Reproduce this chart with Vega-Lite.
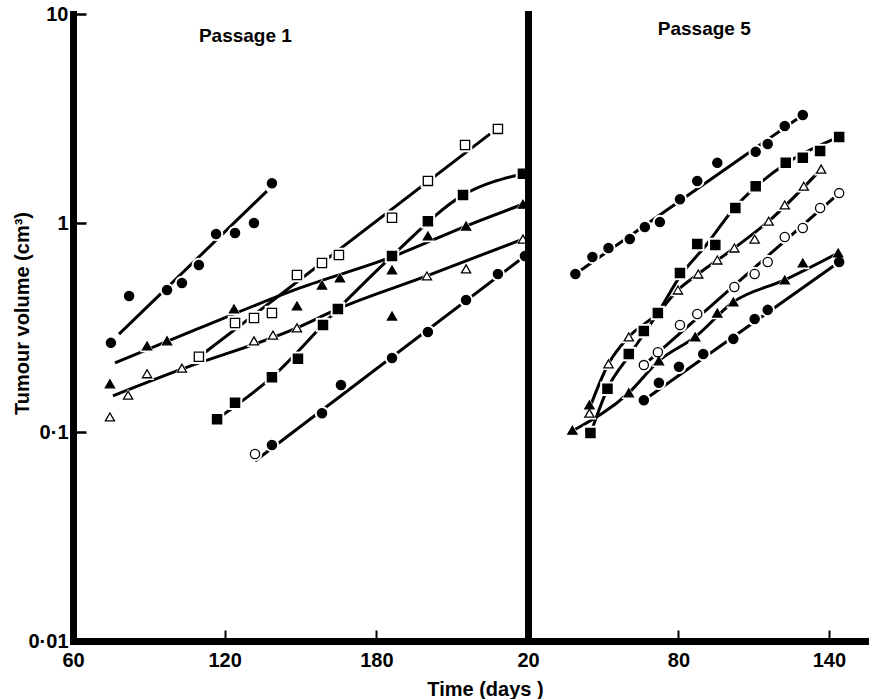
{
  "$schema": "https://vega.github.io/schema/vega-lite/v6.json",
  "padding": {"left": 12, "top": 4, "right": 0, "bottom": 0},
  "background": "white",
  "spacing": 0,
  "bounds": "flush",
  "config": {
    "view": {"stroke": null},
    "font": "Liberation Sans",
    "axis": {
      "grid": false, "domainColor": "black", "tickColor": "black",
      "labelColor": "black", "titleColor": "black",
      "labelFont": "Liberation Sans", "titleFont": "Liberation Sans",
      "labelFontWeight": "bold", "titleFontWeight": "bold",
      "labelFontSize": 20, "titleFontSize": 20
    }
  },
  "resolve": {"scale": {"x": "independent", "y": "independent"}},
  "datasets": {
    "p1_obs": [
      {"series": "A", "shape": "circle", "fill": "filled", "day": 75.0, "vol": 0.267},
      {"series": "A", "shape": "circle", "fill": "filled", "day": 82.2, "vol": 0.447},
      {"series": "A", "shape": "circle", "fill": "filled", "day": 97.2, "vol": 0.478},
      {"series": "A", "shape": "circle", "fill": "filled", "day": 103.1, "vol": 0.516},
      {"series": "A", "shape": "circle", "fill": "filled", "day": 109.8, "vol": 0.630},
      {"series": "A", "shape": "circle", "fill": "filled", "day": 116.6, "vol": 0.886},
      {"series": "A", "shape": "circle", "fill": "filled", "day": 124.1, "vol": 0.896},
      {"series": "A", "shape": "circle", "fill": "filled", "day": 131.6, "vol": 1.0},
      {"series": "A", "shape": "circle", "fill": "filled", "day": 138.7, "vol": 1.55},
      {"series": "B", "shape": "triangle", "fill": "filled", "day": 74.6, "vol": 0.170},
      {"series": "B", "shape": "triangle", "fill": "filled", "day": 89.3, "vol": 0.258},
      {"series": "B", "shape": "triangle", "fill": "filled", "day": 97.2, "vol": 0.273},
      {"series": "B", "shape": "triangle", "fill": "filled", "day": 123.7, "vol": 0.388},
      {"series": "B", "shape": "triangle", "fill": "filled", "day": 148.6, "vol": 0.401},
      {"series": "B", "shape": "triangle", "fill": "filled", "day": 158.5, "vol": 0.505},
      {"series": "B", "shape": "triangle", "fill": "filled", "day": 165.6, "vol": 0.546},
      {"series": "B", "shape": "triangle", "fill": "filled", "day": 186.2, "vol": 0.596},
      {"series": "B", "shape": "triangle", "fill": "filled", "day": 186.2, "vol": 0.359},
      {"series": "B", "shape": "triangle", "fill": "filled", "day": 200.4, "vol": 0.867},
      {"series": "B", "shape": "triangle", "fill": "filled", "day": 215.5, "vol": 0.967},
      {"series": "B", "shape": "triangle", "fill": "filled", "day": 238.0, "vol": 1.23},
      {"series": "C", "shape": "triangle", "fill": "open", "day": 74.6, "vol": 0.118},
      {"series": "C", "shape": "triangle", "fill": "open", "day": 81.8, "vol": 0.150},
      {"series": "C", "shape": "triangle", "fill": "open", "day": 89.3, "vol": 0.190},
      {"series": "C", "shape": "triangle", "fill": "open", "day": 103.1, "vol": 0.202},
      {"series": "C", "shape": "triangle", "fill": "open", "day": 131.6, "vol": 0.273},
      {"series": "C", "shape": "triangle", "fill": "open", "day": 139.1, "vol": 0.291},
      {"series": "C", "shape": "triangle", "fill": "open", "day": 148.6, "vol": 0.315},
      {"series": "C", "shape": "triangle", "fill": "open", "day": 200.0, "vol": 0.558},
      {"series": "C", "shape": "triangle", "fill": "open", "day": 215.5, "vol": 0.603},
      {"series": "C", "shape": "triangle", "fill": "open", "day": 238.0, "vol": 0.838},
      {"series": "D", "shape": "square", "fill": "open", "day": 109.8, "vol": 0.229},
      {"series": "D", "shape": "square", "fill": "open", "day": 124.1, "vol": 0.332},
      {"series": "D", "shape": "square", "fill": "open", "day": 131.6, "vol": 0.351},
      {"series": "D", "shape": "square", "fill": "open", "day": 138.7, "vol": 0.371},
      {"series": "D", "shape": "square", "fill": "open", "day": 148.6, "vol": 0.564},
      {"series": "D", "shape": "square", "fill": "open", "day": 158.5, "vol": 0.644},
      {"series": "D", "shape": "square", "fill": "open", "day": 165.2, "vol": 0.703},
      {"series": "D", "shape": "square", "fill": "open", "day": 186.2, "vol": 1.06},
      {"series": "D", "shape": "square", "fill": "open", "day": 200.4, "vol": 1.59},
      {"series": "D", "shape": "square", "fill": "open", "day": 215.1, "vol": 2.36},
      {"series": "D", "shape": "square", "fill": "open", "day": 228.1, "vol": 2.82},
      {"series": "E", "shape": "square", "fill": "filled", "day": 117.0, "vol": 0.115},
      {"series": "E", "shape": "square", "fill": "filled", "day": 124.1, "vol": 0.138},
      {"series": "E", "shape": "square", "fill": "filled", "day": 138.7, "vol": 0.183},
      {"series": "E", "shape": "square", "fill": "filled", "day": 149.0, "vol": 0.224},
      {"series": "E", "shape": "square", "fill": "filled", "day": 158.9, "vol": 0.325},
      {"series": "E", "shape": "square", "fill": "filled", "day": 164.8, "vol": 0.388},
      {"series": "E", "shape": "square", "fill": "filled", "day": 186.2, "vol": 0.695},
      {"series": "E", "shape": "square", "fill": "filled", "day": 200.4, "vol": 1.02},
      {"series": "E", "shape": "square", "fill": "filled", "day": 214.3, "vol": 1.36},
      {"series": "E", "shape": "square", "fill": "filled", "day": 238.0, "vol": 1.72},
      {"series": "F", "shape": "circle", "fill": "open", "day": 132.0, "vol": 0.0785},
      {"series": "F", "shape": "circle", "fill": "filled", "day": 138.7, "vol": 0.0867},
      {"series": "F", "shape": "circle", "fill": "filled", "day": 158.5, "vol": 0.123},
      {"series": "F", "shape": "circle", "fill": "filled", "day": 166.0, "vol": 0.168},
      {"series": "F", "shape": "circle", "fill": "filled", "day": 186.2, "vol": 0.226},
      {"series": "F", "shape": "circle", "fill": "filled", "day": 200.4, "vol": 0.301},
      {"series": "F", "shape": "circle", "fill": "filled", "day": 215.5, "vol": 0.428},
      {"series": "F", "shape": "circle", "fill": "filled", "day": 228.1, "vol": 0.570},
      {"series": "F", "shape": "circle", "fill": "filled", "day": 238.8, "vol": 0.695}
    ],
    "p1_fit": [
      {"series": "A", "day": 78.2, "vol": 0.294},
      {"series": "A", "day": 136.7, "vol": 1.42},
      {"series": "B", "day": 76.6, "vol": 0.214},
      {"series": "B", "day": 110.2, "vol": 0.315},
      {"series": "B", "day": 149.8, "vol": 0.489},
      {"series": "B", "day": 186.2, "vol": 0.688},
      {"series": "B", "day": 215.5, "vol": 0.967},
      {"series": "B", "day": 238.0, "vol": 1.23},
      {"series": "C", "day": 75.8, "vol": 0.149},
      {"series": "C", "day": 101.1, "vol": 0.196},
      {"series": "C", "day": 148.6, "vol": 0.315},
      {"series": "C", "day": 164.8, "vol": 0.388},
      {"series": "C", "day": 200.0, "vol": 0.558},
      {"series": "C", "day": 238.0, "vol": 0.838},
      {"series": "D", "day": 111.4, "vol": 0.236},
      {"series": "D", "day": 225.0, "vol": 2.67},
      {"series": "E", "day": 118.1, "vol": 0.118},
      {"series": "E", "day": 138.7, "vol": 0.183},
      {"series": "E", "day": 164.8, "vol": 0.388},
      {"series": "E", "day": 186.2, "vol": 0.695},
      {"series": "E", "day": 214.3, "vol": 1.36},
      {"series": "E", "day": 238.0, "vol": 1.72},
      {"series": "F", "day": 132.0, "vol": 0.0727},
      {"series": "F", "day": 238.8, "vol": 0.695}
    ],
    "p5_obs": [
      {"series": "A5", "shape": "circle", "fill": "filled", "day": 38.9, "vol": 0.570},
      {"series": "A5", "shape": "circle", "fill": "filled", "day": 45.7, "vol": 0.688},
      {"series": "A5", "shape": "circle", "fill": "filled", "day": 52.1, "vol": 0.759},
      {"series": "A5", "shape": "circle", "fill": "filled", "day": 60.6, "vol": 0.838},
      {"series": "A5", "shape": "circle", "fill": "filled", "day": 66.6, "vol": 0.957},
      {"series": "A5", "shape": "circle", "fill": "filled", "day": 72.6, "vol": 1.01},
      {"series": "A5", "shape": "circle", "fill": "filled", "day": 80.6, "vol": 1.30},
      {"series": "A5", "shape": "circle", "fill": "filled", "day": 87.5, "vol": 1.59},
      {"series": "A5", "shape": "circle", "fill": "filled", "day": 95.5, "vol": 1.94},
      {"series": "A5", "shape": "circle", "fill": "filled", "day": 110.8, "vol": 2.19},
      {"series": "A5", "shape": "circle", "fill": "filled", "day": 115.6, "vol": 2.39},
      {"series": "A5", "shape": "circle", "fill": "filled", "day": 122.4, "vol": 2.91},
      {"series": "A5", "shape": "circle", "fill": "filled", "day": 129.6, "vol": 3.29},
      {"series": "B5", "shape": "square", "fill": "filled", "day": 44.9, "vol": 0.0989},
      {"series": "B5", "shape": "square", "fill": "filled", "day": 51.7, "vol": 0.161},
      {"series": "B5", "shape": "square", "fill": "filled", "day": 60.2, "vol": 0.236},
      {"series": "B5", "shape": "square", "fill": "filled", "day": 66.2, "vol": 0.304},
      {"series": "B5", "shape": "square", "fill": "filled", "day": 71.8, "vol": 0.371},
      {"series": "B5", "shape": "square", "fill": "filled", "day": 80.6, "vol": 0.577},
      {"series": "B5", "shape": "square", "fill": "filled", "day": 87.5, "vol": 0.794},
      {"series": "B5", "shape": "square", "fill": "filled", "day": 94.7, "vol": 0.785},
      {"series": "B5", "shape": "square", "fill": "filled", "day": 102.7, "vol": 1.18},
      {"series": "B5", "shape": "square", "fill": "filled", "day": 110.8, "vol": 1.50},
      {"series": "B5", "shape": "square", "fill": "filled", "day": 122.8, "vol": 1.94},
      {"series": "B5", "shape": "square", "fill": "filled", "day": 129.6, "vol": 2.05},
      {"series": "B5", "shape": "square", "fill": "filled", "day": 136.5, "vol": 2.21},
      {"series": "B5", "shape": "square", "fill": "filled", "day": 144.1, "vol": 2.58},
      {"series": "C5", "shape": "triangle", "fill": "open", "day": 44.5, "vol": 0.123},
      {"series": "C5", "shape": "triangle", "fill": "open", "day": 52.1, "vol": 0.212},
      {"series": "C5", "shape": "triangle", "fill": "open", "day": 60.2, "vol": 0.285},
      {"series": "C5", "shape": "triangle", "fill": "open", "day": 79.8, "vol": 0.478},
      {"series": "C5", "shape": "triangle", "fill": "open", "day": 87.9, "vol": 0.570},
      {"series": "C5", "shape": "triangle", "fill": "open", "day": 95.5, "vol": 0.665},
      {"series": "C5", "shape": "triangle", "fill": "open", "day": 102.3, "vol": 0.759},
      {"series": "C5", "shape": "triangle", "fill": "open", "day": 110.4, "vol": 0.838},
      {"series": "C5", "shape": "triangle", "fill": "open", "day": 116.0, "vol": 1.02},
      {"series": "C5", "shape": "triangle", "fill": "open", "day": 122.4, "vol": 1.22},
      {"series": "C5", "shape": "triangle", "fill": "open", "day": 130.0, "vol": 1.50},
      {"series": "C5", "shape": "triangle", "fill": "open", "day": 136.9, "vol": 1.81},
      {"series": "D5", "shape": "circle", "fill": "open", "day": 66.2, "vol": 0.209},
      {"series": "D5", "shape": "circle", "fill": "open", "day": 71.8, "vol": 0.241},
      {"series": "D5", "shape": "circle", "fill": "open", "day": 80.6, "vol": 0.325},
      {"series": "D5", "shape": "circle", "fill": "open", "day": 87.5, "vol": 0.367},
      {"series": "D5", "shape": "circle", "fill": "open", "day": 102.3, "vol": 0.494},
      {"series": "D5", "shape": "circle", "fill": "open", "day": 110.4, "vol": 0.570},
      {"series": "D5", "shape": "circle", "fill": "open", "day": 115.6, "vol": 0.651},
      {"series": "D5", "shape": "circle", "fill": "open", "day": 122.4, "vol": 0.857},
      {"series": "D5", "shape": "circle", "fill": "open", "day": 129.6, "vol": 0.947},
      {"series": "D5", "shape": "circle", "fill": "open", "day": 136.5, "vol": 1.18},
      {"series": "D5", "shape": "circle", "fill": "open", "day": 144.1, "vol": 1.39},
      {"series": "E5", "shape": "triangle", "fill": "filled", "day": 37.7, "vol": 0.102},
      {"series": "E5", "shape": "triangle", "fill": "filled", "day": 44.5, "vol": 0.135},
      {"series": "E5", "shape": "triangle", "fill": "filled", "day": 60.2, "vol": 0.154},
      {"series": "E5", "shape": "triangle", "fill": "filled", "day": 72.2, "vol": 0.219},
      {"series": "E5", "shape": "triangle", "fill": "filled", "day": 86.7, "vol": 0.285},
      {"series": "E5", "shape": "triangle", "fill": "filled", "day": 95.5, "vol": 0.371},
      {"series": "E5", "shape": "triangle", "fill": "filled", "day": 101.9, "vol": 0.419},
      {"series": "E5", "shape": "triangle", "fill": "filled", "day": 122.4, "vol": 0.534},
      {"series": "E5", "shape": "triangle", "fill": "filled", "day": 129.6, "vol": 0.644},
      {"series": "E5", "shape": "triangle", "fill": "filled", "day": 143.7, "vol": 0.719},
      {"series": "F5", "shape": "circle", "fill": "filled", "day": 66.2, "vol": 0.142},
      {"series": "F5", "shape": "circle", "fill": "filled", "day": 72.2, "vol": 0.172},
      {"series": "F5", "shape": "circle", "fill": "filled", "day": 80.2, "vol": 0.205},
      {"series": "F5", "shape": "circle", "fill": "filled", "day": 89.9, "vol": 0.236},
      {"series": "F5", "shape": "circle", "fill": "filled", "day": 101.9, "vol": 0.279},
      {"series": "F5", "shape": "circle", "fill": "filled", "day": 110.4, "vol": 0.347},
      {"series": "F5", "shape": "circle", "fill": "filled", "day": 115.6, "vol": 0.384},
      {"series": "F5", "shape": "circle", "fill": "filled", "day": 144.1, "vol": 0.651}
    ],
    "p5_fit": [
      {"series": "A5", "day": 38.9, "vol": 0.570},
      {"series": "A5", "day": 129.6, "vol": 3.29},
      {"series": "B5", "day": 45.3, "vol": 0.101},
      {"series": "B5", "day": 51.7, "vol": 0.161},
      {"series": "B5", "day": 60.2, "vol": 0.231},
      {"series": "B5", "day": 71.8, "vol": 0.371},
      {"series": "B5", "day": 81.0, "vol": 0.564},
      {"series": "B5", "day": 91.1, "vol": 0.785},
      {"series": "B5", "day": 102.3, "vol": 1.18},
      {"series": "B5", "day": 110.8, "vol": 1.49},
      {"series": "B5", "day": 122.8, "vol": 1.92},
      {"series": "B5", "day": 144.1, "vol": 2.58},
      {"series": "C5", "day": 43.7, "vol": 0.122},
      {"series": "C5", "day": 52.1, "vol": 0.212},
      {"series": "C5", "day": 60.2, "vol": 0.285},
      {"series": "C5", "day": 71.8, "vol": 0.371},
      {"series": "C5", "day": 79.8, "vol": 0.478},
      {"series": "C5", "day": 87.9, "vol": 0.570},
      {"series": "C5", "day": 102.3, "vol": 0.759},
      {"series": "C5", "day": 116.0, "vol": 1.02},
      {"series": "C5", "day": 136.9, "vol": 1.81},
      {"series": "D5", "day": 66.2, "vol": 0.209},
      {"series": "D5", "day": 144.1, "vol": 1.39},
      {"series": "E5", "day": 38.9, "vol": 0.103},
      {"series": "E5", "day": 60.2, "vol": 0.154},
      {"series": "E5", "day": 72.2, "vol": 0.219},
      {"series": "E5", "day": 86.7, "vol": 0.285},
      {"series": "E5", "day": 101.9, "vol": 0.419},
      {"series": "E5", "day": 122.4, "vol": 0.534},
      {"series": "E5", "day": 143.7, "vol": 0.719},
      {"series": "F5", "day": 66.2, "vol": 0.142},
      {"series": "F5", "day": 144.1, "vol": 0.651}
    ]
  },
  "hconcat": [
    {
      "width": 455,
      "height": 627,
      "encoding": {
        "x": {"field": "day", "type": "quantitative",
              "scale": {"domain": [60, 240], "nice": false, "zero": false},
              "axis": {"values": [60, 120, 180], "title": "Time (days )", "domainWidth": 7, "domainCap": "square",
                       "tickSize": -11, "tickWidth": 2, "labelPadding": 20, "labelFlush": false, "labelOverlap": false,
                       "titleX": 412, "titleY": 38, "titleBaseline": "top", "titleAlign": "center", "titleAnchor": null}},
        "y": {"field": "vol", "type": "quantitative",
              "scale": {"type": "log", "domain": [0.01, 10], "nice": false},
              "axis": {"values": [0.01, 0.1, 1, 10],
                       "labelExpr": "datum.value == 0.01 ? '0·01' : datum.value == 0.1 ? '0·1' : datum.value == 1 ? '1' : '10'",
                       "title": "Tumour volume (cm³)", "domainWidth": 7, "domainCap": "square",
                       "tickSize": -13, "tickWidth": 2.5, "labelPadding": 18, "labelOverlap": false,
                       "titleX": -45, "titleY": 299, "titleAlign": "center", "titleBaseline": "alphabetic"}}
      },
      "layer": [
        {"data": {"name": "p1_fit"},
         "mark": {"type": "line", "interpolate": "monotone", "color": "black", "strokeWidth": 3},
         "encoding": {"detail": {"field": "series"}}},
        {"data": {"name": "p1_obs"},
         "mark": {"type": "point", "filled": true, "fill": "white", "strokeWidth": 0, "size": 210, "opacity": 1},
         "encoding": {"shape": {"field": "shape", "type": "nominal", "scale": {"domain": ["circle", "square", "triangle"], "range": ["circle", "square", "triangle-up"]}, "legend": null}}},
        {"data": {"name": "p1_obs"},
         "mark": {"type": "point", "filled": true, "stroke": "black", "strokeWidth": 1.3, "opacity": 1},
         "encoding": {
           "shape": {"field": "shape", "type": "nominal", "scale": {"domain": ["circle", "square", "triangle"], "range": ["circle", "square", "triangle-up"]}, "legend": null},
           "fill": {"field": "fill", "type": "nominal", "scale": {"domain": ["filled", "open"], "range": ["black", "white"]}, "legend": null},
           "size": {"field": "shape", "type": "ordinal", "scale": {"domain": ["circle", "square", "triangle"], "range": [85, 85, 100]}, "legend": null}
         }},
        {"data": {"values": [{"label": "Passage 1", "day": 128.2, "vol": 7.35}]},
         "mark": {"type": "text", "fontSize": 19, "fontWeight": "bold", "font": "Liberation Sans", "baseline": "alphabetic", "align": "center", "color": "black"},
         "encoding": {"text": {"field": "label"}}}
      ]
    },
    {
      "width": 341,
      "height": 627,
      "encoding": {
        "x": {"field": "day", "type": "quantitative",
              "scale": {"domain": [20, 156], "nice": false, "zero": false},
              "axis": {"values": [20, 80, 140], "title": null, "domainWidth": 7, "domainCap": "square",
                       "tickSize": -11, "tickWidth": 2, "labelPadding": 20, "labelFlush": false, "labelOverlap": false}},
        "y": {"field": "vol", "type": "quantitative",
              "scale": {"type": "log", "domain": [0.01, 10], "nice": false},
              "axis": {"labels": false, "ticks": false, "title": null, "domainWidth": 7, "domainCap": "square", "minExtent": 0, "maxExtent": 0}}
      },
      "layer": [
        {"data": {"name": "p5_fit"},
         "mark": {"type": "line", "interpolate": "monotone", "color": "black", "strokeWidth": 3},
         "encoding": {"detail": {"field": "series"}}},
        {"data": {"name": "p5_obs"},
         "mark": {"type": "point", "filled": true, "fill": "white", "strokeWidth": 0, "size": 210, "opacity": 1},
         "encoding": {"shape": {"field": "shape", "type": "nominal", "scale": {"domain": ["circle", "square", "triangle"], "range": ["circle", "square", "triangle-up"]}, "legend": null}}},
        {"data": {"name": "p5_obs"},
         "mark": {"type": "point", "filled": true, "stroke": "black", "strokeWidth": 1.3, "opacity": 1},
         "encoding": {
           "shape": {"field": "shape", "type": "nominal", "scale": {"domain": ["circle", "square", "triangle"], "range": ["circle", "square", "triangle-up"]}, "legend": null},
           "fill": {"field": "fill", "type": "nominal", "scale": {"domain": ["filled", "open"], "range": ["black", "white"]}, "legend": null},
           "size": {"field": "shape", "type": "ordinal", "scale": {"domain": ["circle", "square", "triangle"], "range": [85, 85, 100]}, "legend": null}
         }},
        {"data": {"values": [{"label": "Passage 5", "day": 90.3, "vol": 7.94}]},
         "mark": {"type": "text", "fontSize": 19, "fontWeight": "bold", "font": "Liberation Sans", "baseline": "alphabetic", "align": "center", "color": "black"},
         "encoding": {"text": {"field": "label"}}}
      ]
    }
  ]
}
